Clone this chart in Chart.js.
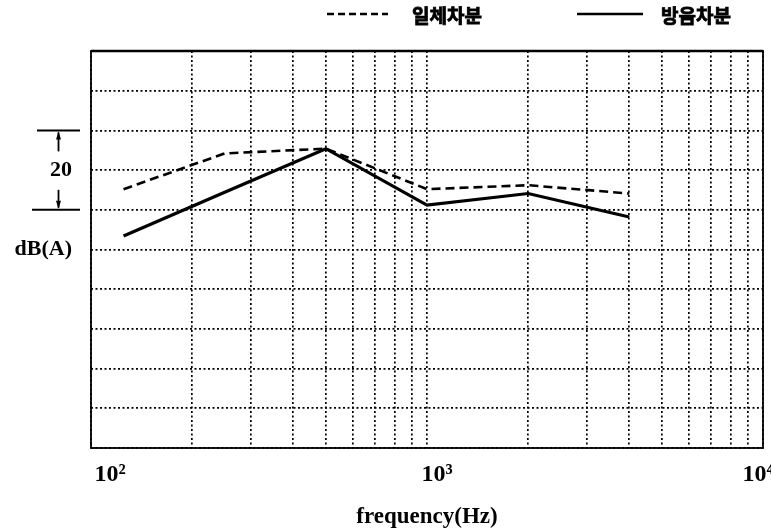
<!DOCTYPE html>
<html>
<head>
<meta charset="utf-8">
<script src="https://cdn.jsdelivr.net/npm/chart.js@4.4.1/dist/chart.umd.min.js"></script>
<style>
html,body{margin:0;padding:0;background:#fff;}
#wrap{width:771px;height:531px;}
</style>
</head>
<body>
<div id="wrap"><canvas id="c" width="771" height="531"></canvas></div>
<script>
// ---- data ----
const frequencies = [125, 250, 500, 1000, 2000, 4000];
const seriesNames = ['일체차분', '방음차분'];
const integratedDiff = [65.2, 74.2, 75.4, 65.2, 66.2, 64.1];   // dashed
const soundproofDiff = [53.4, 64.4, 75.4, 61.2, 64.1, 58.2];   // solid
const xTickValues = [100,200,300,400,500,600,700,800,900,1000,2000,3000,4000,5000,6000,7000,8000,9000,10000];
const xTickLabels = {100: '   10²', 1000: '10³', 10000: '10⁴     '};
const yTickLabels = {70: '20', 50: 'dB(A)'};
const bracketRange = [60, 80];

const serif = "'Liberation Serif','DejaVu Serif','Times New Roman',serif";

const toPoints = arr => frequencies.map((f, i) => ({x: f, y: arr[i]}));

const frameAndExtras = {
  id: 'frameAndExtras',
  beforeDatasetsDraw(chart) {
    const {ctx, chartArea: a} = chart;
    ctx.save();
    ctx.strokeStyle = '#000';
    ctx.lineWidth = 1.8;
    ctx.setLineDash([]);
    ctx.strokeRect(a.left, a.top, a.right - a.left, a.bottom - a.top);
    ctx.lineWidth = 2.4;
    ctx.beginPath(); ctx.moveTo(a.left, a.top); ctx.lineTo(a.right, a.top); ctx.stroke();
    ctx.restore();
  },
  afterDraw(chart) {
    const {ctx} = chart;
    const ys = chart.scales.y;
    const yTop = ys.getPixelForValue(bracketRange[1]);
    const yBot = ys.getPixelForValue(bracketRange[0]);
    const ax = 58.5;
    ctx.save();
    ctx.strokeStyle = '#000';
    ctx.fillStyle = '#000';
    ctx.setLineDash([]);
    ctx.lineWidth = 2;
    ctx.beginPath(); ctx.moveTo(37, yTop); ctx.lineTo(80, yTop); ctx.stroke();
    ctx.lineWidth = 1.8;
    ctx.beginPath(); ctx.moveTo(ax, yTop + 2); ctx.lineTo(ax, yTop + 21); ctx.stroke();
    ctx.beginPath(); ctx.moveTo(ax, yTop + 1); ctx.lineTo(ax - 2.5, yTop + 9); ctx.lineTo(ax + 2.5, yTop + 9); ctx.closePath(); ctx.fill();
    ctx.lineWidth = 2;
    ctx.beginPath(); ctx.moveTo(32, yBot); ctx.lineTo(80, yBot); ctx.stroke();
    ctx.lineWidth = 1.8;
    ctx.beginPath(); ctx.moveTo(ax, yBot - 20); ctx.lineTo(ax, yBot - 2); ctx.stroke();
    ctx.beginPath(); ctx.moveTo(ax, yBot - 1); ctx.lineTo(ax - 2.5, yBot - 9); ctx.lineTo(ax + 2.5, yBot - 9); ctx.closePath(); ctx.fill();

    // legend
    const ds = chart.data.datasets;
    const items = [{x0: 327, x1: 388, tx: 412}, {x0: 577, x1: 643, tx: 661}];
    ctx.font = "bold 19px 'Noto Sans CJK KR','Noto Sans CJK SC',sans-serif";
    ctx.textBaseline = 'middle';
    ctx.textAlign = 'left';
    items.forEach((it, i) => {
      ctx.lineWidth = 2.4;
      ctx.setLineDash(ds[i].borderDash ? [7, 4] : []);
      ctx.beginPath(); ctx.moveTo(it.x0, 14); ctx.lineTo(it.x1, 14); ctx.stroke();
      ctx.setLineDash([]);
      ctx.fillText(ds[i].label, it.tx, 16);
      ctx.lineWidth = 0.8;
      ctx.strokeText(ds[i].label, it.tx, 16);
    });
    ctx.restore();
  }
};

new Chart(document.getElementById('c'), {
  type: 'line',
  data: {
    datasets: [
      {label: seriesNames[0], data: toPoints(integratedDiff), borderColor: '#000', borderWidth: 2.6, borderDash: [9, 5], pointRadius: 0, tension: 0, fill: false},
      {label: seriesNames[1], data: toPoints(soundproofDiff), borderColor: '#000', borderWidth: 3.2, pointRadius: 0, tension: 0, fill: false}
    ]
  },
  options: {
    responsive: false,
    animation: false,
    devicePixelRatio: 1,
    layout: {padding: {top: 51, right: 8, left: 0, bottom: 0}},
    plugins: {legend: {display: false}, tooltip: {enabled: false}},
    scales: {
      x: {
        type: 'logarithmic',
        min: 100, max: 10000,
        afterBuildTicks: s => { s.ticks = xTickValues.map(v => ({value: v})); },
        afterFit: s => { s.height = 83; s.paddingLeft = 0; s.paddingRight = 0; },
        border: {display: false, dash: [2, 2.5]},
        grid: {color: '#000', lineWidth: 1.7, drawTicks: false},
        ticks: {
          autoSkip: false, maxRotation: 0, padding: 12, labelOffset: 10, color: '#000',
          font: {family: serif, size: 24, weight: 'bold'},
          callback: v => xTickLabels[v] || ''
        },
        title: {display: true, text: 'frequency(Hz)', color: '#000', padding: {top: 2, bottom: 0},
          font: {family: serif, size: 23, weight: 'bold'}}
      },
      y: {
        type: 'linear',
        min: 0, max: 100,
        afterFit: s => { s.width = 91; s.paddingTop = 0; s.paddingBottom = 0; },
        border: {display: false, dash: [2, 2.5]},
        grid: {color: '#000', lineWidth: 1.7, drawTicks: false},
        ticks: {
          stepSize: 10, autoSkip: false, padding: 19, color: '#000',
          font: {family: serif, size: 22, weight: 'bold'},
          callback: v => yTickLabels[v] || ''
        }
      }
    }
  },
  plugins: [frameAndExtras]
});
</script>
</body>
</html>
